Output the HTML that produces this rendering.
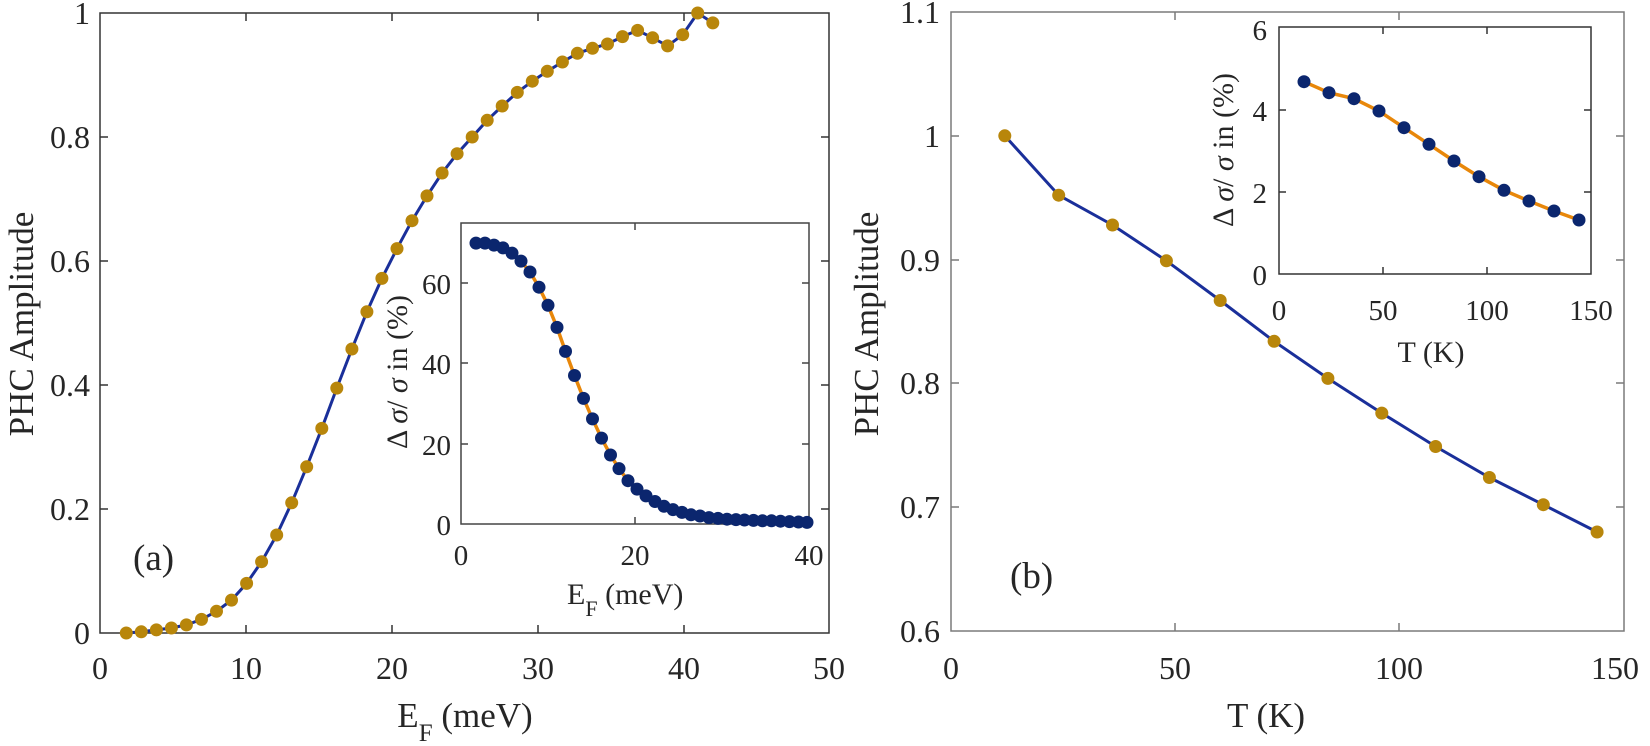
<!DOCTYPE html>
<html><head><meta charset="utf-8"><style>
html,body{margin:0;padding:0;background:#fff}
svg{display:block}
svg text, svg tspan{font-family:"Liberation Serif","DejaVu Serif",serif !important;fill:#262626}
</style></head><body>
<svg width="1650" height="746" viewBox="0 0 1650 746" xmlns="http://www.w3.org/2000/svg" font-family="Liberation Serif, DejaVu Serif, serif">
<!-- LEFT MAIN -->
<g stroke="#333" stroke-width="1.5" fill="none">
<rect x="100" y="13" width="729" height="620"/>
<path d="M246,633v-8M392,633v-8M538,633v-8M684,633v-8M246,13v8M392,13v8M538,13v8M684,13v8
M100,509h8M100,385h8M100,261h8M100,137h8M829,509h-8M829,385h-8M829,261h-8M829,137h-8"/>
</g>
<g font-size="32" text-anchor="end">
<text x="90" y="644">0</text><text x="90" y="520">0.2</text><text x="90" y="396">0.4</text>
<text x="90" y="272">0.6</text><text x="90" y="148">0.8</text><text x="90" y="24">1</text>
</g>
<g font-size="32" text-anchor="middle">
<text x="100" y="679">0</text><text x="246" y="679">10</text><text x="392" y="679">20</text>
<text x="538" y="679">30</text><text x="684" y="679">40</text><text x="829" y="679">50</text>
</g>
<text x="465" y="727" font-size="35" text-anchor="middle">E<tspan font-size="25" dy="14">F</tspan><tspan dy="-14"> (meV)</tspan></text>
<text transform="translate(33,324) rotate(-90)" font-size="35" text-anchor="middle">PHC Amplitude</text>
<text x="133" y="570" font-size="37">(a)</text>
<polyline fill="none" stroke="#1a2f9a" stroke-width="3" points="126.3,633 141.3,631.8 156.4,629.9 171.4,628 186.4,624.9 201.5,619.4 216.5,611.3 231.5,600.1 246.6,583.4 261.6,561.7 276.7,535 291.7,502.8 306.7,466.8 321.8,428.4 336.8,388.1 351.9,349 366.9,311.8 381.9,278.4 397,248.6 412,220.7 427,195.9 442.1,173 457.1,153.7 472.2,137 487.2,120.3 502.2,106 517.3,92.4 532.3,81.2 547.3,71.3 562.4,62 577.4,53.3 592.5,48.3 607.5,44 622.5,36.6 637.6,30.4 652.6,37.8 667.6,45.9 682.7,34.7 697.7,13 712.8,22.9"/>
<g fill="#b8860b">
<circle cx="126.3" cy="633" r="6.5"/><circle cx="141.3" cy="631.8" r="6.5"/><circle cx="156.4" cy="629.9" r="6.5"/><circle cx="171.4" cy="628" r="6.5"/><circle cx="186.4" cy="624.9" r="6.5"/><circle cx="201.5" cy="619.4" r="6.5"/><circle cx="216.5" cy="611.3" r="6.5"/><circle cx="231.5" cy="600.1" r="6.5"/><circle cx="246.6" cy="583.4" r="6.5"/><circle cx="261.6" cy="561.7" r="6.5"/><circle cx="276.7" cy="535" r="6.5"/><circle cx="291.7" cy="502.8" r="6.5"/><circle cx="306.7" cy="466.8" r="6.5"/><circle cx="321.8" cy="428.4" r="6.5"/><circle cx="336.8" cy="388.1" r="6.5"/><circle cx="351.9" cy="349" r="6.5"/><circle cx="366.9" cy="311.8" r="6.5"/><circle cx="381.9" cy="278.4" r="6.5"/><circle cx="397" cy="248.6" r="6.5"/><circle cx="412" cy="220.7" r="6.5"/><circle cx="427" cy="195.9" r="6.5"/><circle cx="442.1" cy="173" r="6.5"/><circle cx="457.1" cy="153.7" r="6.5"/><circle cx="472.2" cy="137" r="6.5"/><circle cx="487.2" cy="120.3" r="6.5"/><circle cx="502.2" cy="106" r="6.5"/><circle cx="517.3" cy="92.4" r="6.5"/><circle cx="532.3" cy="81.2" r="6.5"/><circle cx="547.3" cy="71.3" r="6.5"/><circle cx="562.4" cy="62" r="6.5"/><circle cx="577.4" cy="53.3" r="6.5"/><circle cx="592.5" cy="48.3" r="6.5"/><circle cx="607.5" cy="44" r="6.5"/><circle cx="622.5" cy="36.6" r="6.5"/><circle cx="637.6" cy="30.4" r="6.5"/><circle cx="652.6" cy="37.8" r="6.5"/><circle cx="667.6" cy="45.9" r="6.5"/><circle cx="682.7" cy="34.7" r="6.5"/><circle cx="697.7" cy="13" r="6.5"/><circle cx="712.8" cy="22.9" r="6.5"/>
</g>
<!-- LEFT INSET -->
<rect x="461" y="223" width="348" height="301" fill="#fff" stroke="#444" stroke-width="1.5"/>
<g stroke="#444" stroke-width="1.5" fill="none">
<path d="M635,524v-7M635,223v7M461,444h7M461,363h7M461,283h7M809,444h-7M809,363h-7M809,283h-7"/>
</g>
<g font-size="29" text-anchor="end">
<text x="451" y="535">0</text><text x="451" y="455">20</text><text x="451" y="374">40</text><text x="451" y="294">60</text>
</g>
<g font-size="29" text-anchor="middle">
<text x="461" y="565">0</text><text x="635" y="565">20</text><text x="809" y="565">40</text>
</g>
<text x="567" y="604" font-size="30">E<tspan font-size="22" dy="12">F</tspan><tspan dy="-12"> (meV)</tspan></text>
<text transform="translate(407,372) rotate(-90)" font-size="30" text-anchor="middle">Δ <tspan font-style="italic">σ</tspan>/ <tspan font-style="italic">σ</tspan> in (%)</text>
<polyline fill="none" stroke="#e8870a" stroke-width="3.5" points="476,243.1 485,243.1 494,245.1 503,247.9 512,253.1 521,261.1 530,272 539,287.2 548,305.3 557,327.4 565.5,351.4 574.5,375.5 583.5,398.4 592.5,418.9 601.5,438.1 610.5,455 619,468.6 628,480.7 637,489.1 646,495.9 655,501.5 664,506.3 673,509.6 682,512.4 691,514.8 700,516 709,517.6 718,518.4 727,519.2 736,519.6 744.5,520 753.5,520.4 762.5,520.8 771.5,520.8 780.5,521.2 789.5,521.6 798.5,522 807,522.4"/>
<g fill="#0b266e">
<circle cx="476" cy="243.1" r="6.5"/><circle cx="485" cy="243.1" r="6.5"/><circle cx="494" cy="245.1" r="6.5"/><circle cx="503" cy="247.9" r="6.5"/><circle cx="512" cy="253.1" r="6.5"/><circle cx="521" cy="261.1" r="6.5"/><circle cx="530" cy="272" r="6.5"/><circle cx="539" cy="287.2" r="6.5"/><circle cx="548" cy="305.3" r="6.5"/><circle cx="557" cy="327.4" r="6.5"/><circle cx="565.5" cy="351.4" r="6.5"/><circle cx="574.5" cy="375.5" r="6.5"/><circle cx="583.5" cy="398.4" r="6.5"/><circle cx="592.5" cy="418.9" r="6.5"/><circle cx="601.5" cy="438.1" r="6.5"/><circle cx="610.5" cy="455" r="6.5"/><circle cx="619" cy="468.6" r="6.5"/><circle cx="628" cy="480.7" r="6.5"/><circle cx="637" cy="489.1" r="6.5"/><circle cx="646" cy="495.9" r="6.5"/><circle cx="655" cy="501.5" r="6.5"/><circle cx="664" cy="506.3" r="6.5"/><circle cx="673" cy="509.6" r="6.5"/><circle cx="682" cy="512.4" r="6.5"/><circle cx="691" cy="514.8" r="6.5"/><circle cx="700" cy="516" r="6.5"/><circle cx="709" cy="517.6" r="6.5"/><circle cx="718" cy="518.4" r="6.5"/><circle cx="727" cy="519.2" r="6.5"/><circle cx="736" cy="519.6" r="6.5"/><circle cx="744.5" cy="520" r="6.5"/><circle cx="753.5" cy="520.4" r="6.5"/><circle cx="762.5" cy="520.8" r="6.5"/><circle cx="771.5" cy="520.8" r="6.5"/><circle cx="780.5" cy="521.2" r="6.5"/><circle cx="789.5" cy="521.6" r="6.5"/><circle cx="798.5" cy="522" r="6.5"/><circle cx="807" cy="522.4" r="6.5"/>
</g>

<!-- RIGHT MAIN -->
<g stroke="#7a7a7a" stroke-width="1.5" fill="none">
<rect x="951" y="12" width="673" height="619"/>
<path d="M1175,631v-8M1399,631v-8M1175,12v8M1399,12v8
M951,507h8M951,383h8M951,260h8M951,136h8M1624,507h-8M1624,383h-8M1624,260h-8M1624,136h-8"/>
</g>
<g font-size="32" text-anchor="end">
<text x="940" y="642">0.6</text><text x="940" y="518">0.7</text><text x="940" y="394">0.8</text>
<text x="940" y="271">0.9</text><text x="940" y="147">1</text><text x="940" y="23">1.1</text>
</g>
<g font-size="32" text-anchor="middle">
<text x="951" y="679">0</text><text x="1175" y="679">50</text><text x="1399" y="679">100</text><text x="1615" y="679">150</text>
</g>
<text x="1266" y="727" font-size="35" text-anchor="middle">T (K)</text>
<text transform="translate(878,324) rotate(-90)" font-size="35" text-anchor="middle">PHC Amplitude</text>
<text x="1010" y="588" font-size="37">(b)</text>
<polyline fill="none" stroke="#1a2f9a" stroke-width="3" points="1004.8,135.8 1058.7,195.2 1112.5,225 1166.4,260.8 1220.2,300.5 1274.1,341.3 1327.9,378.4 1381.8,413.1 1435.6,446.5 1489.4,477.5 1543.3,504.7 1597.1,532"/>
<g fill="#b8860b">
<circle cx="1004.8" cy="135.8" r="6.5"/><circle cx="1058.7" cy="195.2" r="6.5"/><circle cx="1112.5" cy="225" r="6.5"/><circle cx="1166.4" cy="260.8" r="6.5"/><circle cx="1220.2" cy="300.5" r="6.5"/><circle cx="1274.1" cy="341.3" r="6.5"/><circle cx="1327.9" cy="378.4" r="6.5"/><circle cx="1381.8" cy="413.1" r="6.5"/><circle cx="1435.6" cy="446.5" r="6.5"/><circle cx="1489.4" cy="477.5" r="6.5"/><circle cx="1543.3" cy="504.7" r="6.5"/><circle cx="1597.1" cy="532" r="6.5"/>
</g>
<!-- RIGHT INSET -->
<rect x="1279" y="27" width="312" height="247" fill="#fff" stroke="#333" stroke-width="1.5"/>
<g stroke="#333" stroke-width="1.5" fill="none">
<path d="M1383,274v-7M1487,274v-7M1383,27v7M1487,27v7M1279,192h7M1279,110h7M1591,192h-7M1591,110h-7"/>
</g>
<g font-size="29" text-anchor="end">
<text x="1267" y="285">0</text><text x="1267" y="203">2</text><text x="1267" y="121">4</text><text x="1267" y="40">6</text>
</g>
<g font-size="29" text-anchor="middle">
<text x="1279" y="320">0</text><text x="1383" y="320">50</text><text x="1487" y="320">100</text><text x="1591" y="320">150</text>
</g>
<text x="1431" y="362" font-size="30" text-anchor="middle">T (K)</text>
<text transform="translate(1233,150) rotate(-90)" font-size="30" text-anchor="middle">Δ <tspan font-style="italic">σ</tspan>/ <tspan font-style="italic">σ</tspan> in (%)</text>
<polyline fill="none" stroke="#e8870a" stroke-width="3.5" points="1304,81.7 1329,92.7 1354,98.7 1379,111 1404,127.7 1429,144.3 1454,161 1479,176.7 1504,190.3 1529,201 1554,211 1579,220"/>
<g fill="#0b266e">
<circle cx="1304" cy="81.7" r="6.5"/><circle cx="1329" cy="92.7" r="6.5"/><circle cx="1354" cy="98.7" r="6.5"/><circle cx="1379" cy="111" r="6.5"/><circle cx="1404" cy="127.7" r="6.5"/><circle cx="1429" cy="144.3" r="6.5"/><circle cx="1454" cy="161" r="6.5"/><circle cx="1479" cy="176.7" r="6.5"/><circle cx="1504" cy="190.3" r="6.5"/><circle cx="1529" cy="201" r="6.5"/><circle cx="1554" cy="211" r="6.5"/><circle cx="1579" cy="220" r="6.5"/>
</g>
</svg>
</body></html>
